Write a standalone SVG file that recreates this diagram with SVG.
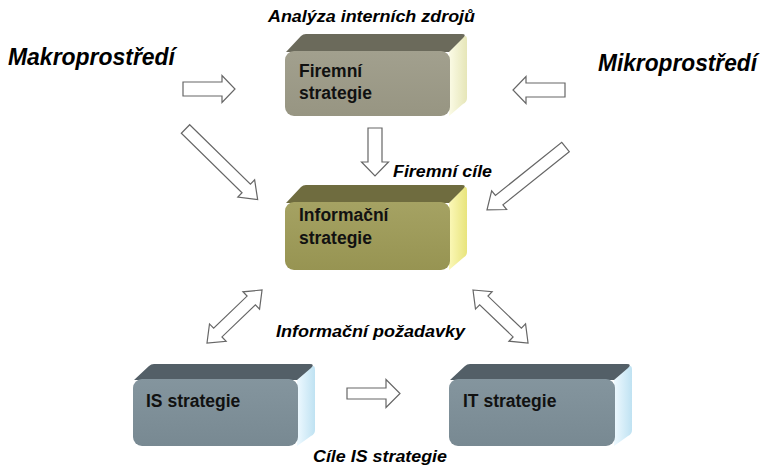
<svg xmlns="http://www.w3.org/2000/svg" width="764" height="475" viewBox="0 0 764 475">
<defs>
<style>
.lbl{font-family:"Liberation Sans",Arial,sans-serif;font-weight:bold;font-style:italic;fill:#000}
.big{font-size:23px}
.sm{font-size:16px}
.bx{font-family:"Liberation Sans",Arial,sans-serif;font-weight:bold;font-size:17.5px;fill:#111}
.arr{fill:#fff;stroke:#666;stroke-width:1.2;stroke-linejoin:miter}
</style>
<linearGradient id="sideY1" x1="0" y1="0" x2="1" y2="0"><stop offset="0" stop-color="#fbfbe6"/><stop offset="1" stop-color="#e6e6b8"/></linearGradient>
<linearGradient id="sideY2" x1="0" y1="0" x2="1" y2="0"><stop offset="0" stop-color="#fbf8b8"/><stop offset="1" stop-color="#e8e47c"/></linearGradient>
<linearGradient id="sideB" x1="0" y1="0" x2="1" y2="0"><stop offset="0" stop-color="#eef9ff"/><stop offset="1" stop-color="#bfe2f2"/></linearGradient>
<linearGradient id="frF" x1="0" y1="0" x2="0" y2="1"><stop offset="0" stop-color="#a2a08e"/><stop offset="1" stop-color="#979582"/></linearGradient>
<linearGradient id="frI" x1="0" y1="0" x2="0" y2="1"><stop offset="0" stop-color="#a5a263"/><stop offset="1" stop-color="#979452"/></linearGradient>
<linearGradient id="frS" x1="0" y1="0" x2="0" y2="1"><stop offset="0" stop-color="#84959e"/><stop offset="1" stop-color="#788992"/></linearGradient>
</defs>
<rect width="764" height="475" fill="#fff"/>

<g id="connectors">
<path class="arr" transform="translate(183,89)" d="M0,-7 L39,-7 L39,-13.5 L52,0 L39,13.5 L39,7 L0,7 Z"/>
<path class="arr" transform="translate(565,90) rotate(180)" d="M0,-7 L39,-7 L39,-13.5 L52,0 L39,13.5 L39,7 L0,7 Z"/>
<path class="arr" transform="translate(375,128) rotate(90)" d="M0,-7 L34,-7 L34,-13.5 L48,0 L34,13.5 L34,7 L0,7 Z"/>
<path class="arr" transform="translate(185.5,129) rotate(44.4)" d="M0,-6 L85,-6 L85,-12 L101,0 L85,12 L85,6 L0,6 Z"/>
<path class="arr" transform="translate(565.5,147) rotate(141.3)" d="M0,-6 L85,-6 L85,-12 L100.6,0 L85,12 L85,6 L0,6 Z"/>
<path class="arr" transform="translate(207,343) rotate(-43.9)" d="M0,0 L15,-12 L15,-6 L61.4,-6 L61.4,-12 L76.4,0 L61.4,12 L61.4,6 L15,6 L15,12 Z"/>
<path class="arr" transform="translate(473,290) rotate(43.9)" d="M0,0 L15,-12 L15,-6 L61.4,-6 L61.4,-12 L76.4,0 L61.4,12 L61.4,6 L15,6 L15,12 Z"/>
<path class="arr" transform="translate(347,393.5)" d="M0,-5.5 L39,-5.5 L39,-14 L53,0 L39,14 L39,5.5 L0,5.5 Z"/>
</g>

<g id="firemni">
<path d="M449,116 L449,52 L463,37 Q467,34 467,40 L467,98 Q467,102 463,104 Z" fill="url(#sideY1)"/>
<path d="M286,52 L301,36 Q303,34 306,34 L462,34 Q467,34 463,38 L449,52 Z" fill="#6b6a5b"/>
<rect x="285" y="51" width="165" height="65" rx="9" fill="url(#frF)"/>
<text class="bx" x="299" y="77">Firemní</text>
<text class="bx" x="299" y="99">strategie</text>
</g>

<g id="informacni">
<path d="M449,270 L449,203 L463,188 Q467,185 467,191 L467,252 Q467,256 463,258 Z" fill="url(#sideY2)"/>
<path d="M286,203 L301,187 Q303,185 306,185 L462,185 Q467,185 463,189 L449,203 Z" fill="#6f6c3f"/>
<rect x="285" y="202" width="165" height="68" rx="9" fill="url(#frI)"/>
<text class="bx" x="299" y="221">Informační</text>
<text class="bx" x="299" y="244">strategie</text>
</g>

<g id="is">
<path d="M297,446 L297,380 L311,367 Q315,364 315,370 L315,430 Q315,434 311,436 Z" fill="url(#sideB)"/>
<path d="M134,380 L149,366 Q151,364 154,364 L310,364 Q315,364 311,368 L297,380 Z" fill="#535f67"/>
<rect x="133" y="379" width="165" height="67" rx="9" fill="url(#frS)"/>
<text class="bx" x="146" y="407">IS strategie</text>
</g>

<g id="it">
<path d="M614,446 L614,380 L628,367 Q632,364 632,370 L632,430 Q632,434 628,436 Z" fill="url(#sideB)"/>
<path d="M450,380 L465,366 Q467,364 470,364 L627,364 Q632,364 628,368 L614,380 Z" fill="#535f67"/>
<rect x="449" y="379" width="166" height="67" rx="9" fill="url(#frS)"/>
<text class="bx" x="463" y="407">IT strategie</text>
</g>

<g id="labels">
<text class="lbl big" x="8" y="65" textLength="167" lengthAdjust="spacingAndGlyphs">Makroprostředí</text>
<text class="lbl big" x="598" y="71" textLength="159" lengthAdjust="spacingAndGlyphs">Mikroprostředí</text>
<text class="lbl sm" x="268" y="22" textLength="207" lengthAdjust="spacingAndGlyphs">Analýza interních zdrojů</text>
<text class="lbl sm" x="393" y="177" textLength="99" lengthAdjust="spacingAndGlyphs">Firemní cíle</text>
<text class="lbl sm" x="276" y="337" textLength="189" lengthAdjust="spacingAndGlyphs">Informační požadavky</text>
<text class="lbl sm" x="313" y="462" textLength="134" lengthAdjust="spacingAndGlyphs">Cíle IS strategie</text>
</g>
</svg>
